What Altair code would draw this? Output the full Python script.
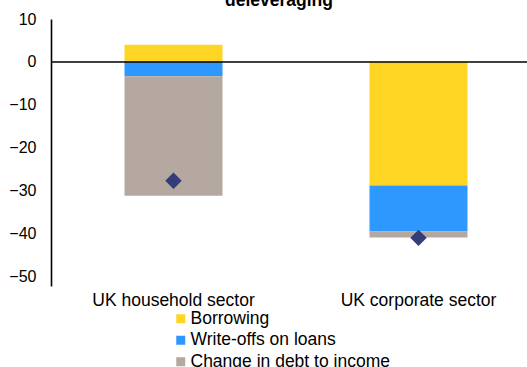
import altair as alt
import pandas as pd

sectors = ["UK household sector", "UK corporate sector"]
series = ["Borrowing", "Write-offs on loans", "Change in debt to income"]
borrowing = [4.0, -28.7]
write_offs = [-3.3, -10.7]
change_dti = [-27.8, -1.4]
total_change = [-27.6, -40.9]
colors = ["#FFD524", "#2F98FF", "#B5A8A0"]
title_text = "deleveraging"
y_ticks = [10, 0, -10, -20, -30, -40, -50]

rows = []
for i, s in enumerate(sectors):
    for k, (name, vals) in enumerate(zip(series, [borrowing, write_offs, change_dti])):
        rows.append({"sector": s, "series": name, "value": vals[i], "order": k})
bars_df = pd.DataFrame(rows)
pts_df = pd.DataFrame({"sector": sectors, "value": total_change})

FONT = "Liberation Sans"

x_enc = alt.X("sector:N", sort=sectors, title=None,
              scale=alt.Scale(domain=sectors, range=[0, 490], paddingInner=0, paddingOuter=0),
              axis=alt.Axis(labelAngle=0, domain=False, ticks=False, labelPadding=5,
                            labelFontSize=17.5, labelFont=FONT, labelColor="#000"))
y_scale = alt.Scale(domain=[-52.1, 10], nice=False, zero=False)

bars = alt.Chart(bars_df).mark_bar(size=98).encode(
    x=x_enc,
    y=alt.Y("value:Q", stack="zero", scale=y_scale, title=None,
            axis=alt.Axis(values=y_ticks, grid=False, ticks=False, domainColor="#000",
                          domainWidth=1.6, labelPadding=15, labelFontSize=16,
                          labelFont=FONT, labelColor="#000")),
    color=alt.Color("series:N", sort=series,
                    scale=alt.Scale(domain=series, range=colors),
                    legend=alt.Legend(title=None, orient="none", legendX=121, legendY=291,
                                      direction="vertical", symbolType="square",
                                      symbolSize=81, symbolStrokeWidth=0,
                                      labelFontSize=17.5, labelFont=FONT, labelColor="#000",
                                      labelLimit=0, rowPadding=2.5, labelOffset=1)),
    order=alt.Order("order:Q"),
)

zero = alt.Chart(pts_df).mark_rule(color="#000", strokeWidth=1).encode(y=alt.datum(0))

pts = alt.Chart(pts_df).mark_point(shape="diamond", filled=True, size=270,
                                   color="#333D79", opacity=1).encode(
    x=alt.X("sector:N", sort=sectors),
    y=alt.Y("value:Q"),
)

title = alt.Chart(pd.DataFrame({"t": [title_text]})).mark_text(
    font=FONT, fontSize=17.5, fontWeight="bold", align="center", baseline="alphabetic",
    color="#000"
).encode(text="t:N", x=alt.value(228), y=alt.value(-13.5))

chart = alt.layer(bars, zero, pts, title).properties(
    width=476, height=267,
    autosize=alt.AutoSizeParams(type="none"),
    padding={"left": 51, "top": 19, "right": 0, "bottom": 81},
).configure_view(stroke=None)

chart.save("out.html", embed_options={"renderer": "svg", "actions": False})
